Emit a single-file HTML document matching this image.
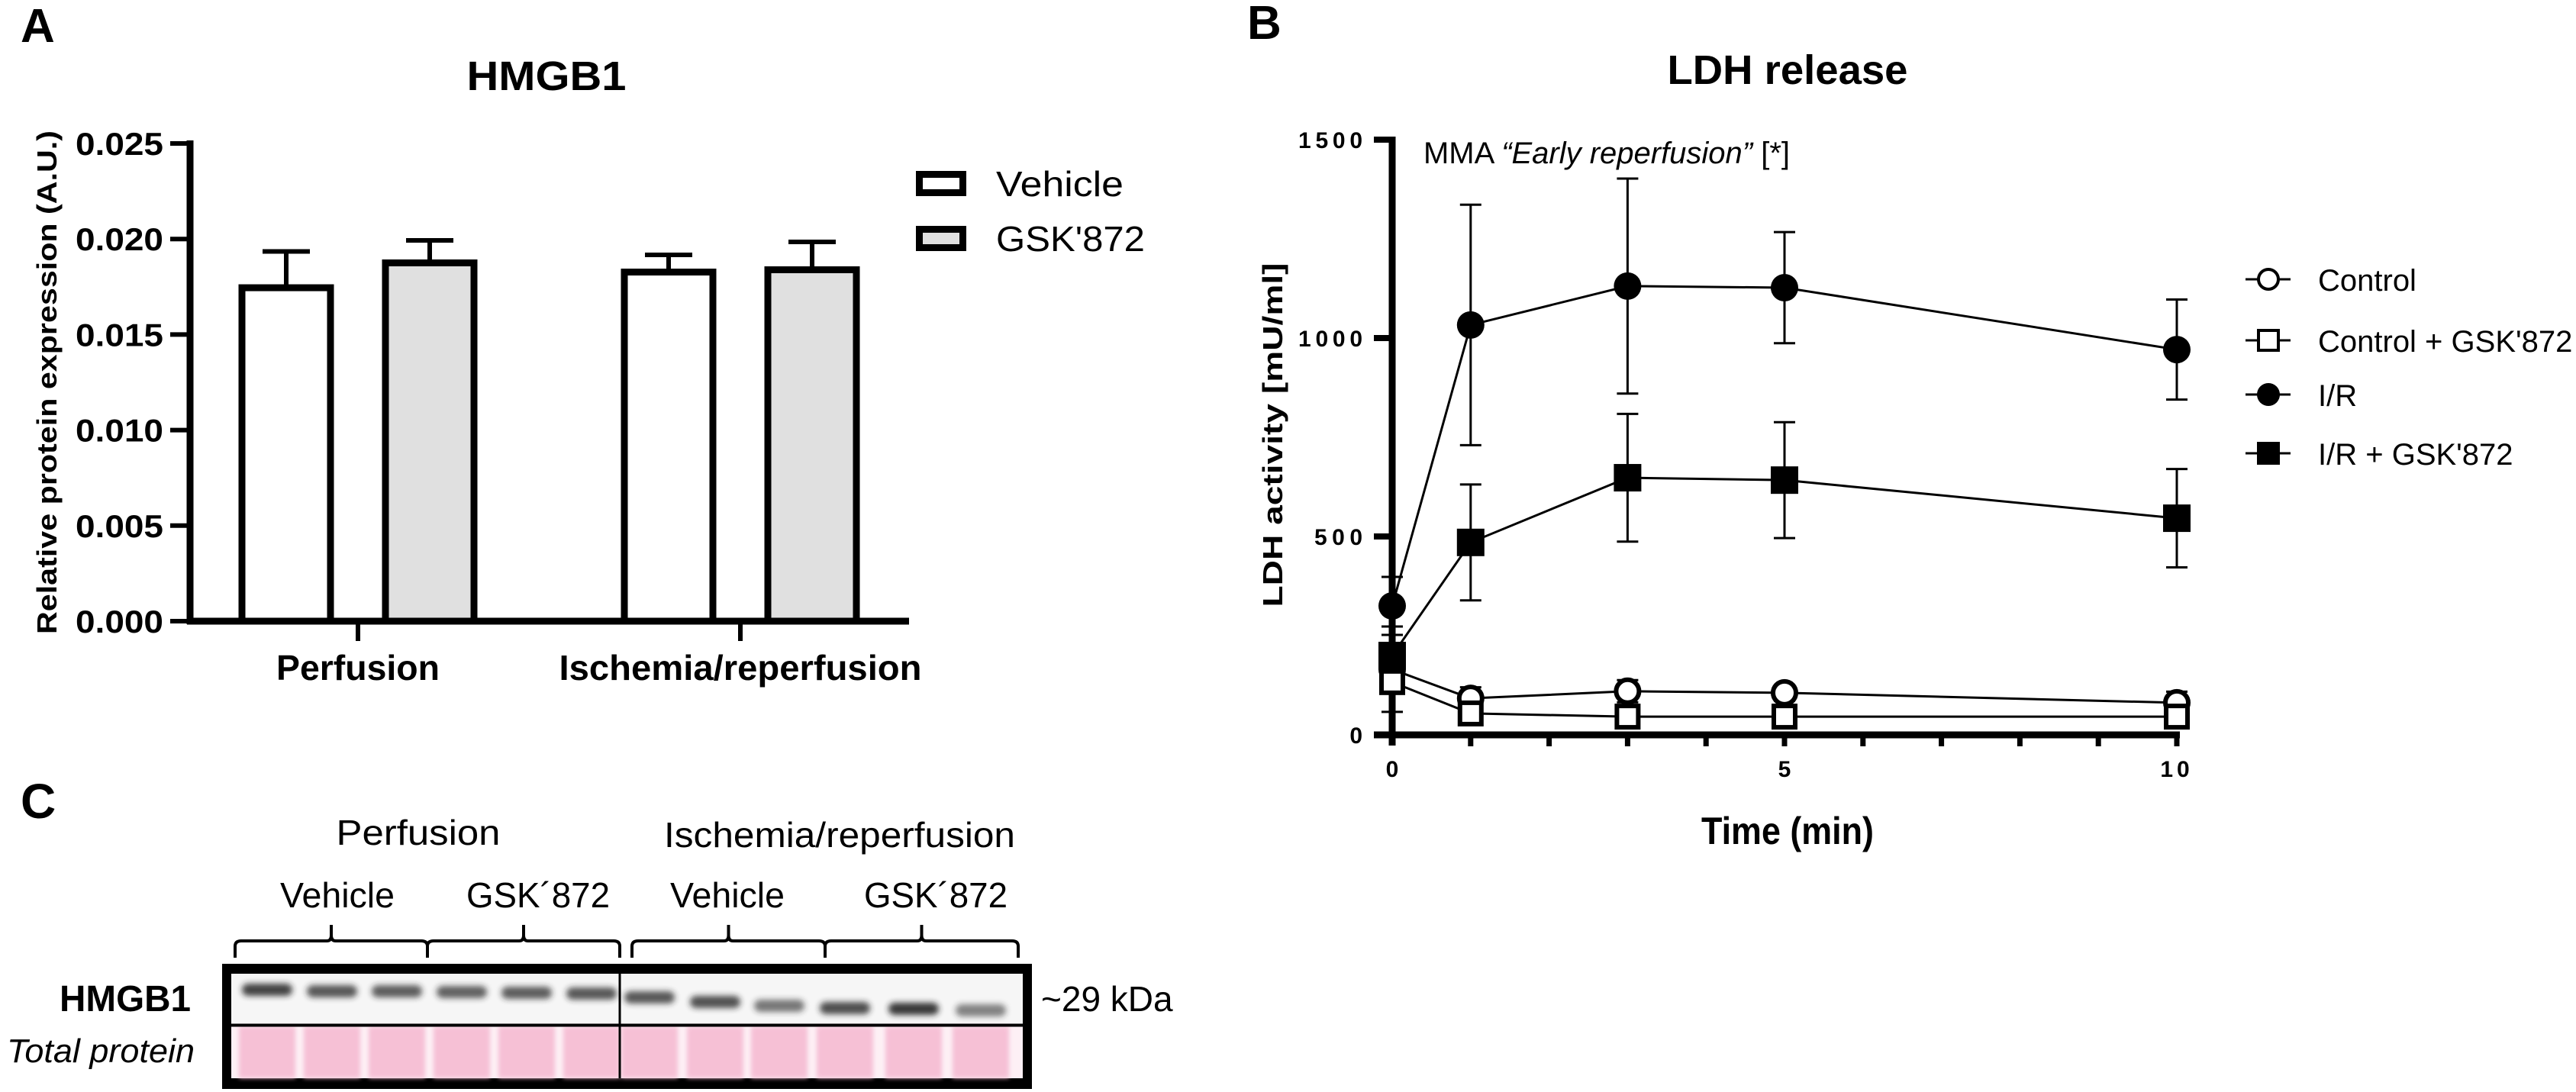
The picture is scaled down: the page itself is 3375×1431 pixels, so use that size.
<!DOCTYPE html>
<html><head><meta charset="utf-8">
<style>
html,body{margin:0;padding:0;background:#fff;}
svg{display:block;}
text{font-family:"Liberation Sans",sans-serif;fill:#000;}
.b{font-weight:bold;}
</style></head>
<body>
<svg id="fig" width="3375" height="1431" viewBox="0 0 3375 1431" xmlns="http://www.w3.org/2000/svg">
<defs>
<filter id="blur" x="-20%" y="-100%" width="140%" height="300%"><feGaussianBlur stdDeviation="4"/></filter>
<filter id="blur2"><feGaussianBlur stdDeviation="3"/></filter>
</defs>
<!-- Panel A -->
<g id="panelA">
<text x="27" y="55" class="b" font-size="62">A</text>
<text x="716" y="118" class="b" font-size="54" text-anchor="middle" textLength="209" lengthAdjust="spacingAndGlyphs">HMGB1</text>
<text transform="translate(74,501) rotate(-90)" class="b" font-size="36" text-anchor="middle" textLength="660" lengthAdjust="spacingAndGlyphs">Relative protein expression (A.U.)</text>
<g id="aAxes"></g>
<g id="aBars"></g>
<g>
<rect x="1204.5" y="228.5" width="57" height="24" fill="#fff" stroke="#000" stroke-width="9"/>
<text x="1305" y="257" font-size="46" textLength="167" lengthAdjust="spacingAndGlyphs">Vehicle</text>
<rect x="1204.5" y="300.5" width="57" height="24" fill="#e0e0e0" stroke="#000" stroke-width="9"/>
<text x="1305" y="329" font-size="46" textLength="195" lengthAdjust="spacingAndGlyphs">GSK'872</text>
</g>
</g>

<!-- Panel B -->
<g id="panelB">
<text x="1634" y="51" class="b" font-size="62">B</text>
<text x="2342" y="110" class="b" font-size="54" text-anchor="middle" textLength="315" lengthAdjust="spacingAndGlyphs">LDH release</text>
<text transform="translate(1680,570) rotate(-90)" class="b" font-size="36" text-anchor="middle" textLength="451" lengthAdjust="spacingAndGlyphs">LDH activity [mU/ml]</text>
<text x="2342" y="1106" class="b" font-size="50" text-anchor="middle" textLength="226" lengthAdjust="spacingAndGlyphs">Time (min)</text>
<text x="1865" y="214" font-size="40" textLength="480" lengthAdjust="spacingAndGlyphs">MMA <tspan font-style="italic">“Early reperfusion”</tspan> [*]</text>
<g id="bAxes"></g>
<g id="bSeries"></g>
<g id="bLegend"></g>
</g>

<!-- Panel C -->
<g id="panelC">
<text x="27" y="1072" class="b" font-size="64">C</text>
<text x="548" y="1107" font-size="46" text-anchor="middle" textLength="215" lengthAdjust="spacingAndGlyphs">Perfusion</text>
<text x="1100" y="1110" font-size="46" text-anchor="middle" textLength="460" lengthAdjust="spacingAndGlyphs">Ischemia/reperfusion</text>
<text x="442" y="1189" font-size="46" text-anchor="middle" textLength="150" lengthAdjust="spacingAndGlyphs">Vehicle</text>
<text x="705" y="1189" font-size="46" text-anchor="middle" textLength="188" lengthAdjust="spacingAndGlyphs">GSK´872</text>
<text x="953" y="1189" font-size="46" text-anchor="middle" textLength="150" lengthAdjust="spacingAndGlyphs">Vehicle</text>
<text x="1226" y="1189" font-size="46" text-anchor="middle" textLength="188" lengthAdjust="spacingAndGlyphs">GSK´872</text>
<g id="brackets" fill="none" stroke="#000" stroke-width="4"></g>
<rect x="291" y="1263" width="1061" height="164" fill="#000"/>
<rect x="303" y="1276" width="1037" height="66" fill="#f6f6f6"/>
<rect x="303" y="1345" width="1037" height="68" fill="#fdf0f5"/>
<g id="lanes"></g>
<line x1="812" y1="1276" x2="812" y2="1413" stroke="#000" stroke-width="3"/>
<text x="250" y="1325" class="b" font-size="48" text-anchor="end" textLength="172" lengthAdjust="spacingAndGlyphs">HMGB1</text>
<text x="255" y="1392" font-size="44" font-style="italic" text-anchor="end" textLength="246" lengthAdjust="spacingAndGlyphs">Total protein</text>
<text x="1364" y="1325" font-size="46">~29 kDa</text>
</g>
</svg>

<script>
// ---------- Panel A data ----------
const aGroups = ["Perfusion", "Ischemia/reperfusion"];
const aTreatments = ["Vehicle", "GSK'872"];
const aVehicle = [0.01745, 0.01827];
const aGSK = [0.01875, 0.01839];
const aVehicleErr = [0.00190, 0.00090];
const aGSKErr = [0.00118, 0.00146];
const aTicks = [0, 0.005, 0.010, 0.015, 0.020, 0.025];
const aTickLabels = ["0.000", "0.005", "0.010", "0.015", "0.020", "0.025"];

// ---------- Panel B data ----------
const bTimes = [0, 1, 3, 5, 10];
const bSeriesNames = ["Control", "Control + GSK'872", "I/R", "I/R + GSK'872"];
const bControl = [165, 92, 110, 106, 81];
const bControlErr = [60, 28, 28, 20, 28];
const bControlGSK = [133, 54, 46, 46, 46];
const bControlGSKErr = [75, 12, 10, 10, 10];
const bIR = [325, 1033, 1131, 1127, 971];
const bIRErr = [73, 303, 271, 140, 126];
const bIRGSK = [200, 485, 648, 642, 546];
const bIRGSKErr = [73, 146, 161, 146, 124];
const bYTicks = [0, 500, 1000, 1500];
const bYTickLabels = ["0", "500", "1000", "1500"];
const bXTicks = [0, 5, 10];
const bXTickLabels = ["0", "5", "10"];

const NS = "http://www.w3.org/2000/svg";
function mk(tag, attrs, parent) {
  const e = document.createElementNS(NS, tag);
  for (const k in attrs) e.setAttribute(k, attrs[k]);
  parent.appendChild(e);
  return e;
}

// ---------- Panel A ----------
(function () {
  const y0 = 814, y1 = 188, vmax = 0.025;
  const yA = v => y0 - (v / vmax) * (y0 - y1);
  const axisX = 249, xEnd = 1191;
  const groupCenters = [469, 970];
  const xA = (g, t) => groupCenters[g] + (t === 0 ? -94 : 94);
  const axes = document.getElementById("aAxes");
  let e = mk("line", { x1: axisX, y1: y1 - 4, x2: axisX, y2: y0 + 4, stroke: "#000", "stroke-width": 9 }, axes);
  
  
  e = mk("line", { x1: axisX - 4, y1: y0, x2: xEnd, y2: y0, stroke: "#000", "stroke-width": 9 }, axes);
  
  
  aTicks.forEach((v, i) => {
    const t = mk("line", { x1: 223, y1: yA(v), x2: axisX, y2: yA(v), stroke: "#000", "stroke-width": 6 }, axes);
    
    
    const l = mk("text", { x: 214, y: yA(v) + 15, "font-size": 42, "font-weight": "bold", "text-anchor": "end", textLength: 115, lengthAdjust: "spacingAndGlyphs" }, axes);
    l.textContent = aTickLabels[i];
    
    
  });
  aGroups.forEach((g, i) => {
    const t = mk("line", { x1: groupCenters[i], y1: y0, x2: groupCenters[i], y2: 840, stroke: "#000", "stroke-width": 6 }, axes);
    
    
    const l = mk("text", { x: groupCenters[i], y: 891, "font-size": 46, "font-weight": "bold", "text-anchor": "middle", textLength: i === 0 ? 214 : 475, lengthAdjust: "spacingAndGlyphs" }, axes);
    l.textContent = g;
    
    
  });
  const bars = document.getElementById("aBars");
  const series = [aVehicle, aGSK], errs = [aVehicleErr, aGSKErr], fills = ["#fff", "#e0e0e0"];
  aGroups.forEach((g, gi) => {
    series.forEach((s, ti) => {
      const cx = xA(gi, ti), top = yA(s[gi]), et = yA(s[gi] + errs[ti][gi]);
      const eb = mk("line", { x1: cx, y1: top, x2: cx, y2: et, stroke: "#000", "stroke-width": 6 }, bars);
      
      
      const cap = mk("line", { x1: cx - 31, y1: et, x2: cx + 31, y2: et, stroke: "#000", "stroke-width": 6 }, bars);
      
      
      const r = mk("rect", { x: cx - 58, y: top, width: 116, height: y0 - top, fill: fills[ti], stroke: "#000", "stroke-width": 9 }, bars);
      
      
    });
  });
})();

// ---------- Panel B ----------
(function () {
  const y0 = 963, y1 = 183, vmax = 1500;
  const yB = v => y0 - (v / vmax) * (y0 - y1);
  const x0 = 1824, pxPerMin = 102.8;
  const xB = t => x0 + t * pxPerMin;
  const axes = document.getElementById("bAxes");
  let e = mk("line", { x1: x0, y1: y1 - 4, x2: x0, y2: y0 + 14, stroke: "#000", "stroke-width": 9 }, axes);
  
  
  e = mk("line", { x1: 1800, y1: y0, x2: xB(10) + 4, y2: y0, stroke: "#000", "stroke-width": 9 }, axes);
  
  
  bYTicks.forEach((v, i) => {
    const t = mk("line", { x1: 1800, y1: yB(v), x2: x0, y2: yB(v), stroke: "#000", "stroke-width": 8 }, axes);
    
    
    const lab = bYTickLabels[i];
    const l = mk("text", { x: 1785, y: yB(v) + 11, "font-size": 30, "font-weight": "bold", "text-anchor": "end", textLength: lab.length * 21, lengthAdjust: "spacing" }, axes);
    l.textContent = lab;
    
    
  });
  for (let m = 1; m <= 10; m++) {
    const t = mk("line", { x1: xB(m), y1: y0, x2: xB(m), y2: 978, stroke: "#000", "stroke-width": 7 }, axes);
    
    
  }
  bXTicks.forEach((v, i) => {
    const lab = bXTickLabels[i];
    const l = mk("text", { x: xB(v), y: 1018, "font-size": 30, "font-weight": "bold", "text-anchor": "middle", "letter-spacing": lab.length > 1 ? 5 : 0 }, axes);
    l.textContent = lab;
    
    
  });

  const g = document.getElementById("bSeries");
  const all = [
    { v: bControl, e: bControlErr, shape: "circle", fill: "#fff", name: "control" },
    { v: bControlGSK, e: bControlGSKErr, shape: "square", fill: "#fff", name: "control-gsk872" },
    { v: bIR, e: bIRErr, shape: "circle", fill: "#000", name: "ir" },
    { v: bIRGSK, e: bIRGSKErr, shape: "square", fill: "#000", name: "ir-gsk872" }
  ];
  all.forEach(s => {
    bTimes.forEach((t, i) => {
      const cx = xB(t), yt = yB(s.v[i] + s.e[i]), yb = yB(Math.max(0, s.v[i] - s.e[i]));
      const l = mk("line", { x1: cx, y1: yt, x2: cx, y2: yb, stroke: "#000", "stroke-width": 3 }, g);
      
      
      [yt, yb].forEach(yy => {
        const c = mk("line", { x1: cx - 14, y1: yy, x2: cx + 14, y2: yy, stroke: "#000", "stroke-width": 3 }, g);
        
        
      });
    });
  });
  all.forEach(s => {
    const pts = bTimes.map((t, i) => xB(t) + "," + yB(s.v[i])).join(" ");
    const pl = mk("polyline", { points: pts, fill: "none", stroke: "#000", "stroke-width": 3 }, g);
    
    
  });
  all.forEach(s => {
    bTimes.forEach((t, i) => {
      const cx = xB(t), cy = yB(s.v[i]);
      let m;
      if (s.shape === "circle") {
        m = mk("circle", { cx: cx, cy: cy, r: s.fill === "#fff" ? 15 : 18, fill: s.fill, stroke: "#000", "stroke-width": s.fill === "#fff" ? 6 : 0 }, g);
      } else {
        const h = s.fill === "#fff" ? 14 : 18;
        m = mk("rect", { x: cx - h, y: cy - h, width: 2 * h, height: 2 * h, fill: s.fill, stroke: "#000", "stroke-width": s.fill === "#fff" ? 6 : 0 }, g);
      }
      
      
    });
  });

  const lg = document.getElementById("bLegend");
  const rows = [366, 446, 517, 594];
  all.forEach((s, i) => {
    const y = rows[i];
    const ln = mk("line", { x1: 2942, y1: y, x2: 3001, y2: y, stroke: "#000", "stroke-width": 3 }, lg);
    
    
    let m;
    if (s.shape === "circle") m = mk("circle", { cx: 2972, cy: y, r: s.fill === "#fff" ? 13 : 15, fill: s.fill, stroke: "#000", "stroke-width": s.fill === "#fff" ? 4 : 0 }, lg);
    else { const h = s.fill === "#fff" ? 13 : 15; m = mk("rect", { x: 2972 - h, y: y - h, width: 2 * h, height: 2 * h, fill: s.fill, stroke: "#000", "stroke-width": s.fill === "#fff" ? 4 : 0 }, lg); }
    
    
    const tx = mk("text", { x: 3037, y: y + 15, "font-size": 40 }, lg);
    tx.textContent = bSeriesNames[i];
    
    
  });
})();

// ---------- Panel C (blot illustration) ----------
(function () {
  const br = document.getElementById("brackets");
  const groups = [[308, 560], [560, 812], [828, 1081], [1081, 1334]];
  groups.forEach(([a, b]) => {
    const c = (a + b) / 2;
    const p = mk("path", { d: `M${a},1255 L${a},1240 Q${a},1233 ${a + 8},1233 L${c - 6},1233 Q${c},1233 ${c},1226 L${c},1212 M${c},1226 Q${c},1233 ${c + 6},1233 L${b - 8},1233 Q${b},1233 ${b},1240 L${b},1255` }, br);
    
    
  });
  const lanes = document.getElementById("lanes");
  const laneX = [350, 435, 520, 605, 690, 775, 851, 937, 1021, 1107, 1197, 1285];
  const bandY = [1297, 1299, 1299, 1300, 1301, 1302, 1307, 1313, 1318, 1321, 1322, 1324];
  const bandO = [0.85, 0.75, 0.72, 0.7, 0.72, 0.75, 0.75, 0.78, 0.6, 0.8, 0.9, 0.55];
  laneX.forEach((x, i) => {
    const pk = mk("rect", { x: x - 37, y: 1345, width: 74, height: 68, fill: "#f5b8d0", opacity: 0.85, filter: "url(#blur2)" }, lanes);
    
    
    const bd = mk("rect", { x: x - 33, y: bandY[i] - 8, width: 66, height: 16, rx: 8, fill: "#222", opacity: bandO[i], filter: "url(#blur)" }, lanes);
    
    
  });
  const ln = mk("line", { x1: 303, y1: 1343.5, x2: 1340, y2: 1343.5, stroke: "#000", "stroke-width": 4 }, lanes);
  
  
})();
</script>
</body></html>
